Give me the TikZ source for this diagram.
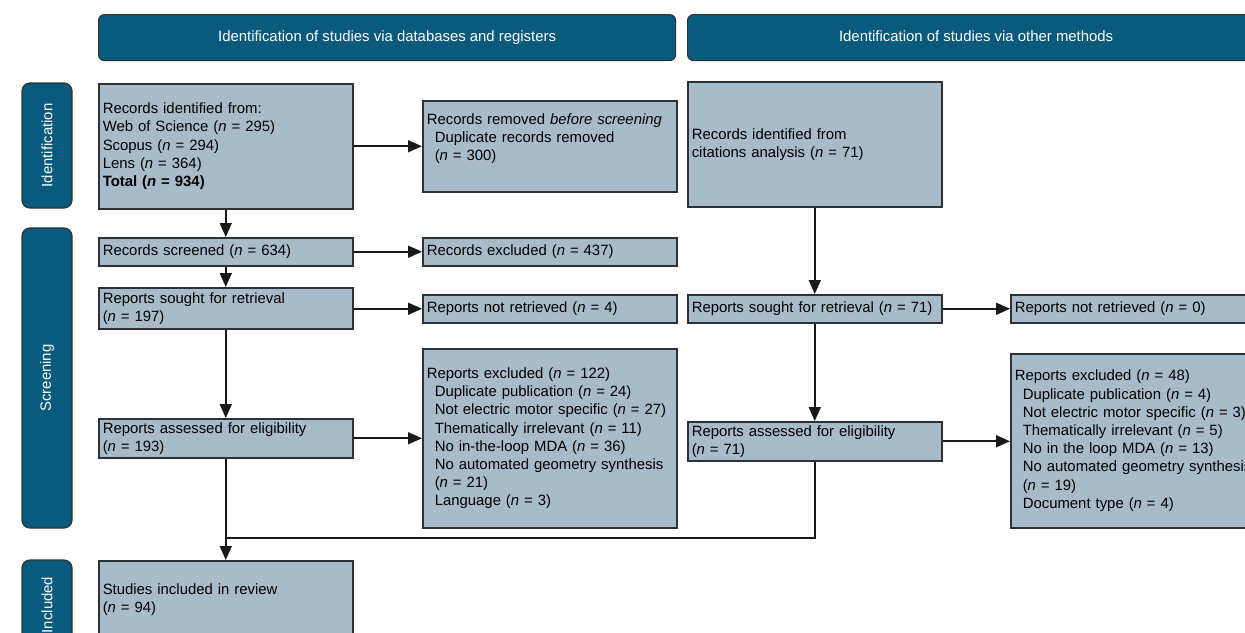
\documentclass[tikz,border=0pt]{standalone}
\usepackage{fontspec}
\setmainfont{Liberation Sans}
\usetikzlibrary{arrows.meta}
\definecolor{prismablue}{RGB}{10,90,125}
\definecolor{prismagrey}{RGB}{167,187,201}
\definecolor{prismaline}{RGB}{45,50,55}
\newcommand{\nval}[1]{(\textit{n} = #1)}
\newcommand{\subind}{\hspace*{4pt}}
\tikzset{>={Triangle[length=7pt,width=6pt]}}
\tikzstyle{record}=[rectangle,draw=prismaline,fill=prismagrey,line width=0.75pt,anchor=north west,inner xsep=2pt,inner ysep=0pt,text width=123pt,align=left,font=\fontsize{7.45}{9.1}\selectfont]
\tikzstyle{header}=[rectangle,draw=black!80,fill=prismablue,line width=0.6pt,rounded corners=3pt,anchor=north west,text=white,minimum width=288.5pt,minimum height=23pt,text height=5.6pt,text depth=1.6pt,font=\fontsize{7.45}{9.1}\selectfont]
\tikzstyle{phase}=[rectangle,draw=black!80,fill=prismablue,line width=0.6pt,rounded corners=4pt,text=white,rotate=90,minimum height=25pt,font=\fontsize{7.45}{9.1}\selectfont]
\tikzstyle{flow}=[line width=0.8pt,draw=black!90]

\begin{document}
\begin{tikzpicture}[x=0.5pt,y=-0.5pt]
	\useasboundingbox (0,0) rectangle (1245,632);
	\clip (0,0) rectangle (1245,632);

	\node[header] (headdb) at (98,14) {Identification of studies via databases and registers};
	\node[header] (headother) at (687,14) {Identification of studies via other methods};

	\node[phase, minimum width=62.5pt] (phaseid) at (47,145.5) {Identification};
	\node[phase, minimum width=150pt] (phasescr) at (47,378) {Screening};
	\node[phase, minimum width=45pt] (phaseinc) at (47,605) {Included};

	\node[record, minimum height=62.5pt] (identified) at (98,83) {Records identified from:\\Web of Science \nval{295}\\Scopus \nval{294}\\Lens \nval{364}\\\textbf{Total \nval{934}}};
	\node[record, minimum height=45.5pt] (removed) at (422,100) {Records removed \textit{before screening}\\\subind Duplicate records removed\\\subind \nval{300}\\\mbox{}};
	\node[record, minimum height=62.5pt] (citations) at (687,81) {Records identified from\\citations analysis \nval{71}};

	\node[record, minimum height=14pt] (screened) at (98,237) {Records screened \nval{634}};
	\node[record, minimum height=14pt] (recexcl) at (422,237) {Records excluded \nval{437}};

	\node[record, minimum height=20.5pt] (sought) at (98,287) {Reports sought for retrieval\\\nval{197}};
	\node[record, minimum height=14pt] (notretr) at (422,294) {Reports not retrieved \nval{4}};
	\node[record, minimum height=14pt] (soughtother) at (687,294) {Reports sought for retrieval \nval{71}};
	\node[record, minimum height=14pt] (notretrother) at (1010,294) {Reports not retrieved \nval{0}};

	\node[record, minimum height=19.5pt] (assessed) at (98,418) {Reports assessed for eligibility\\\nval{193}};
	\node[record, minimum height=89.5pt] (repexcl) at (422,348) {Reports excluded \nval{122}\\\subind Duplicate publication \nval{24}\\\subind Not electric motor specific \nval{27}\\\subind Thematically irrelevant \nval{11}\\\subind No in-the-loop MDA \nval{36}\\\subind No automated geometry synthesis\\\subind \nval{21}\\\subind Language \nval{3}};
	\node[record, minimum height=19.5pt] (assessedother) at (687,421) {Reports assessed for eligibility\\\nval{71}};
	\node[record, minimum height=87pt] (repexclother) at (1010,353) {Reports excluded \nval{48}\\\subind Duplicate publication \nval{4}\\\subind Not electric motor specific \nval{3}\\\subind Thematically irrelevant \nval{5}\\\subind No in the loop MDA \nval{13}\\\subind No automated geometry synthesis\\\subind \nval{19}\\\subind Document type \nval{4}};

	\node[record, minimum height=39pt] (included) at (98,560) {Studies included in review\\\nval{94}};

	\coordinate (merge) at (225,538);

	\draw[flow,->] (identified.east) -- (identified.east -| removed.west);
	\draw[flow,->] (identified.south) -- (screened.north);
	\draw[flow,->] (screened.east) -- (screened.east -| recexcl.west);
	\draw[flow,->] (screened.south) -- (sought.north);
	\draw[flow,->] (notretr.west -| sought.east) -- (notretr.west);
	\draw[flow,->] (sought.south) -- (assessed.north);
	\draw[flow,->] (assessed.east) -- (assessed.east -| repexcl.west);
	\draw[flow,->] (assessed.south) -- (included.north);

	\draw[flow,->] (citations.south) -- (soughtother.north);
	\draw[flow,->] (soughtother.east) -- (soughtother.east -| notretrother.west);
	\draw[flow,->] (soughtother.south) -- (assessedother.north);
	\draw[flow,->] (assessedother.east) -- (assessedother.east -| repexclother.west);
	\draw[flow] (assessedother.south) |- (merge);
\end{tikzpicture}
\end{document}
